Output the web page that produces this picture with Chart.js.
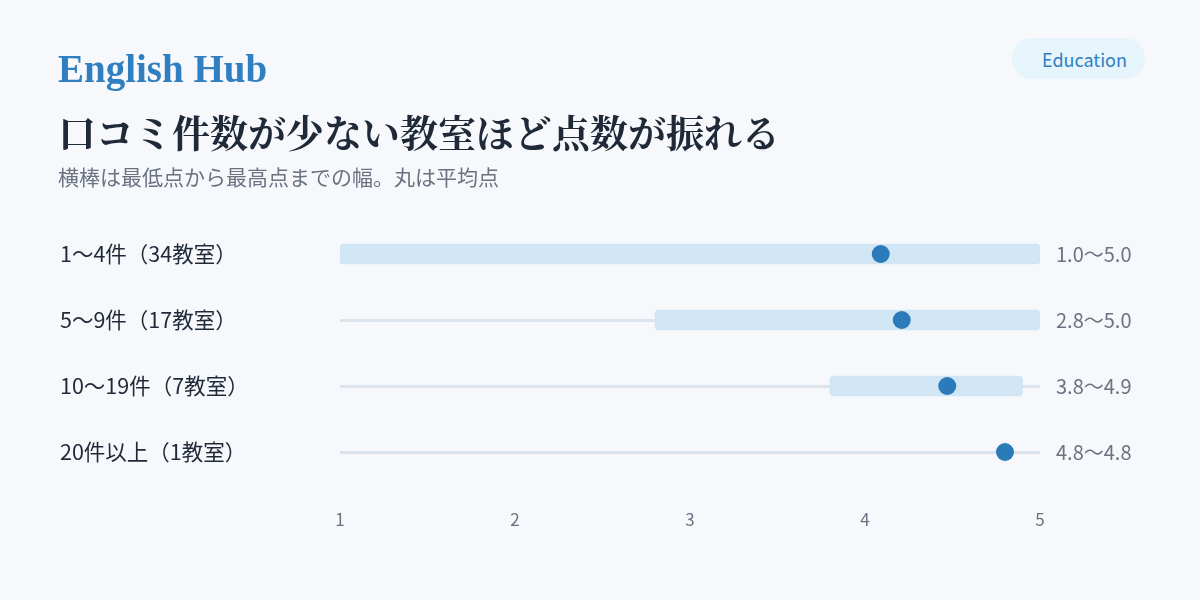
<!DOCTYPE html>
<html lang="ja">
<head>
<meta charset="utf-8">
<script src="https://cdn.jsdelivr.net/npm/chart.js@4/dist/chart.umd.min.js"></script>
<style>
  html, body { margin: 0; padding: 0; background: #f7f8fc; }
  body { width: 1200px; height: 600px; position: relative; overflow: hidden; font-family: "Noto Sans CJK JP", sans-serif; }
  #wrap { position: absolute; left: 0; top: 0; width: 1200px; height: 600px; }
  .brand { position: absolute; left: 58px; top: 46px; font-family: "Liberation Serif", "DejaVu Serif", serif; font-weight: 700; font-size: 39px; color: #2f7fc1; line-height: 46px; }
  .title { position: absolute; left: 58px; top: 108px; font-family: "Noto Serif CJK JP", "Noto Sans CJK JP", serif; font-weight: 700; font-size: 38px; color: #1f2937; line-height: 46px; white-space: nowrap; }
  .sub { position: absolute; left: 58px; top: 161px; font-size: 21px; color: #6b7280; line-height: 30px; white-space: nowrap; }
  .pill { position: absolute; left: 1012px; top: 38px; width: 133px; height: 41px; border-radius: 21px; background: #e6f4fc; color: #2f7fc1; font-size: 18px; line-height: 43px; text-align: center; text-indent: 12px; }
</style>
</head>
<body>
<div id="wrap"><canvas id="myChart" width="1200" height="600"></canvas></div>
<div class="brand">English Hub</div>
<div class="title">口コミ件数が少ない教室ほど点数が振れる</div>
<div class="sub">横棒は最低点から最高点までの幅。丸は平均点</div>
<div class="pill">Education</div>
<script>
const categories = ["1〜4件（34教室）", "5〜9件（17教室）", "10〜19件（7教室）", "20件以上（1教室）"];
const minScores = [1.0, 2.8, 3.8, 4.8];
const maxScores = [5.0, 5.0, 4.9, 4.8];
const meanScores = [4.09, 4.21, 4.47, 4.8];
const xTicks = [1, 2, 3, 4, 5];

const rangeLabels = minScores.map((m, i) => m.toFixed(1) + "〜" + maxScores[i].toFixed(1));
const ranges = minScores.map((m, i) => [m, maxScores[i]]);

const FONT = "'Noto Sans CJK JP', sans-serif";
const ctx = document.getElementById("myChart");

const myChart = new Chart(ctx, {
  type: "bar",
  data: {
    labels: categories,
    datasets: [
      {
        label: "平均点",
        type: "line",
        data: meanScores,
        showLine: false,
        pointRadius: 9,
        pointHoverRadius: 9,
        pointBackgroundColor: "#2b7bba",
        pointBorderWidth: 0,
        order: 0,
      },
      {
        label: "範囲",
        data: ranges,
        backgroundColor: "#d0e6f4",
        barThickness: 20,
        borderRadius: 4,
        borderSkipped: false,
        order: 1,
      },
    ],
  },
  options: {
    indexAxis: "y",
    responsive: false,
    animation: false,
    layout: { padding: { left: 60, right: 0, top: 221, bottom: 55 } },
    plugins: { legend: { display: false }, tooltip: { enabled: false } },
    scales: {
      x: {
        type: "linear",
        min: 1,
        max: 5,
        afterBuildTicks: (scale) => { scale.ticks = xTicks.map((v) => ({ value: v })); },
        grid: { display: false, drawTicks: false },
        border: { display: false },
        ticks: { color: "#6b7280", font: { family: FONT, size: 17 }, padding: 24 },
        afterFit: (scale) => { scale.height = 60; },
      },
      y: {
        position: "left",
        grid: { offset: false, color: "#dbe3ec", lineWidth: 3, drawTicks: false },
        border: { display: false },
        ticks: { color: "#1f2937", crossAlign: "far", font: { family: FONT, size: 21.5 }, padding: 0 },
        afterFit: (scale) => { scale.width = 280; },
      },
      y2: {
        type: "category",
        position: "right",
        labels: rangeLabels,
        offset: true,
        grid: { display: false, drawTicks: false },
        border: { display: false },
        ticks: { color: "#6b7280", font: { family: FONT, size: 20 }, padding: 16 },
        afterFit: (scale) => { scale.width = 160; },
      },
    },
  },
});
</script>
</body>
</html>
